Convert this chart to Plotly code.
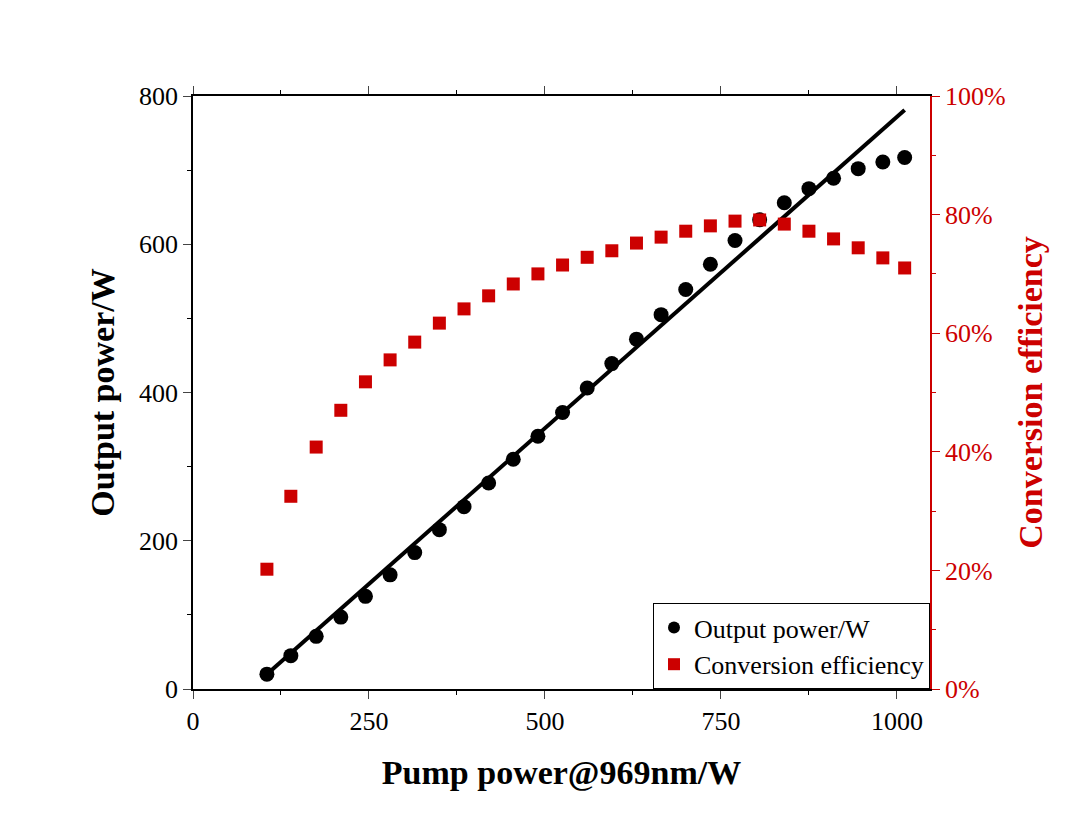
import plotly.graph_objects as go

pump = [105,139,175,210,245,280,315,350,385,420,455,490,525,560,595,630,665,700,735,770,805,840,875,910,945,980,1011]
output = [20,45,71,97,125,154,184,215,246,278,310,341,373,406,439,472,505,539,573,605,633,656,675,689,702,711,717]
eff = [20.2,32.5,40.8,47,51.8,55.5,58.5,61.7,64.1,66.3,68.3,70,71.5,72.8,73.9,75.2,76.2,77.2,78.1,78.9,79.1,78.4,77.2,75.9,74.4,72.7,71]
fit_x = [105,1011]
fit_y = [20,781]

F = "Liberation Serif"
fig = go.Figure()
fig.add_trace(go.Scatter(x=fit_x, y=fit_y, mode="lines", line=dict(color="black", width=4), showlegend=False))
fig.add_trace(go.Scatter(x=pump, y=output, mode="markers", name="Output power/W",
                         marker=dict(symbol="circle", size=15, color="black")))
fig.add_trace(go.Scatter(x=pump, y=eff, mode="markers", name="Conversion efficiency", yaxis="y2",
                         marker=dict(symbol="square", size=13, color="#cc0000")))
fig.update_layout(
    width=1080, height=827, paper_bgcolor="white", plot_bgcolor="white",
    margin=dict(l=185, r=158, t=88, b=146),
    font=dict(family=F, size=26, color="black"),
    xaxis=dict(range=[0,1047], tickvals=[0,250,500,750,1000], showline=True, linecolor="black", linewidth=1.5,
               mirror="ticks", ticks="outside", ticklen=8, showgrid=False, zeroline=False,
               minor=dict(tickvals=[125,375,625,875], ticks="outside", ticklen=4, tickcolor="black"),
               title=dict(text="<b>Pump power@969nm/W</b>", font=dict(size=34), standoff=25)),
    yaxis=dict(range=[0,800], tickvals=[0,200,400,600,800], showline=True, linecolor="black", linewidth=1.5,
               ticks="outside", ticklen=8, showgrid=False, zeroline=False,
               minor=dict(tickvals=[100,300,500,700], ticks="outside", ticklen=4, tickcolor="black"),
               title=dict(text="<b>Output power/W</b>", font=dict(size=34), standoff=14)),
    yaxis2=dict(range=[0,100], overlaying="y", side="right", tickvals=[0,20,40,60,80,100],
                ticktext=["0%","20%","40%","60%","80%","100%"], showline=True, linecolor="#cc0000", linewidth=1.5,
                ticks="outside", ticklen=8, tickcolor="#cc0000", tickfont=dict(color="#cc0000"),
                showgrid=False, zeroline=False,
                minor=dict(tickvals=[10,30,50,70,90], ticks="outside", ticklen=4, tickcolor="#cc0000"),
                title=dict(text="<b>Conversion efficiency</b>", font=dict(size=34, color="#cc0000"), standoff=14)),
    legend=dict(x=1, xanchor="right", y=0, yanchor="bottom", bgcolor="white", bordercolor="black", borderwidth=1,
                font=dict(size=26), itemsizing="constant"),
)
fig.update_traces(cliponaxis=False)
fig.write_html("out.html")
